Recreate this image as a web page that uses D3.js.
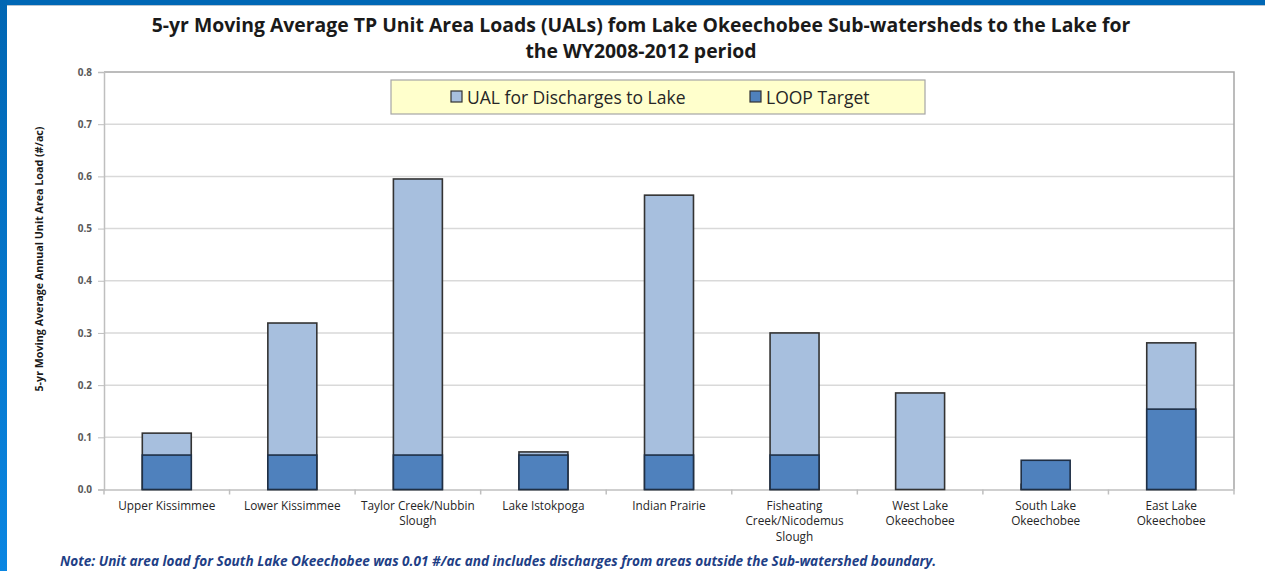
<html>
<head>
<script src="https://d3js.org/d3.v7.min.js"></script>
<style>
  body { margin: 0; background: #fff; }
  text { font-family: "Open Sans", Lato, sans-serif; }
</style>
</head>
<body>
<svg id="chart" width="1265" height="571"></svg>
<script>

// data
var categories = ["Upper Kissimmee", "Lower Kissimmee", "Taylor Creek/Nubbin Slough",
  "Lake Istokpoga", "Indian Prairie", "Fisheating Creek/Nicodemus Slough",
  "West Lake Okeechobee", "South Lake Okeechobee", "East Lake Okeechobee"];
var catLines = [["Upper Kissimmee"], ["Lower Kissimmee"], ["Taylor Creek/Nubbin", "Slough"],
  ["Lake Istokpoga"], ["Indian Prairie"], ["Fisheating", "Creek/Nicodemus", "Slough"],
  ["West Lake", "Okeechobee"], ["South Lake", "Okeechobee"], ["East Lake", "Okeechobee"]];
var ualValues = [0.108, 0.319, 0.595, 0.072, 0.564, 0.300, 0.185, 0.010, 0.281];
var loopValues = [0.066, 0.066, 0.066, 0.066, 0.066, 0.066, 0, 0.056, 0.154];
var yTicks = [0, 0.1, 0.2, 0.3, 0.4, 0.5, 0.6, 0.7, 0.8];
var seriesNames = ["UAL for Discharges to Lake", "LOOP Target"];
var colors = ["#A7BFDE", "#4F81BD"];

var svg = d3.select("#chart");

var pLeft = 104, pRight = 1234, pTop = 72, pBottom = 489.5;

// frame of the slide
var defs = svg.append("defs");
var grad = defs.append("linearGradient").attr("id", "sideGrad")
  .attr("x1", 0).attr("y1", 0).attr("x2", 0).attr("y2", 1);
grad.append("stop").attr("offset", "0%").attr("stop-color", "#0066B3");
grad.append("stop").attr("offset", "100%").attr("stop-color", "#0A86E2");

svg.append("rect").attr("x", 0).attr("y", 0).attr("width", 1265).attr("height", 5).attr("fill", "#0067B5");
svg.append("rect").attr("x", 0).attr("y", 5).attr("width", 1265).attr("height", 1).attr("fill", "#B8C4D0");
svg.append("rect").attr("x", 0).attr("y", 0).attr("width", 7).attr("height", 571).attr("fill", "url(#sideGrad)");

var x = d3.scaleBand().domain(categories).range([pLeft, pRight]).padding(0);
var y = d3.scaleLinear().domain([0, 0.8]).range([pBottom, pTop]);
var barW = x.bandwidth() * 0.39;

// gridlines
svg.append("g").selectAll("line").data(yTicks.slice(1, -1)).enter().append("line")
  .attr("x1", pLeft).attr("x2", pRight)
  .attr("y1", function(d) { return y(d); }).attr("y2", function(d) { return y(d); })
  .attr("stroke", "#D9D9D9").attr("stroke-width", 1.5);

// plot area border (top and right)
svg.append("path")
  .attr("d", "M" + pLeft + "," + pTop + "H" + pRight + "V" + pBottom)
  .attr("fill", "none").attr("stroke", "#A6A6A6").attr("stroke-width", 1.5);

// y axis
var yAxis = svg.append("g")
  .attr("transform", "translate(" + pLeft + ",0)")
  .call(d3.axisLeft(y).tickValues(yTicks).tickFormat(d3.format(".1f")).tickSize(6).tickPadding(6));
yAxis.select(".domain").attr("stroke", "#BFBFBF").attr("stroke-width", 1.5);
yAxis.selectAll(".tick line").attr("stroke", "#BFBFBF");
yAxis.selectAll("text").attr("fill", "#595959").style("font-size", "10px").style("font-weight", "bold")
  .style("font-family", "'Open Sans', sans-serif");

// x axis
var xAxis = svg.append("g")
  .attr("transform", "translate(0," + pBottom + ")")
  .call(d3.axisBottom(x).tickSize(0).tickFormat(""));
xAxis.select(".domain").attr("stroke", "#BFBFBF").attr("stroke-width", 1.5);
svg.append("g").selectAll("line").data(categories).enter().append("line")
  .attr("x1", function(d) { return x(d); }).attr("x2", function(d) { return x(d); })
  .attr("y1", pBottom).attr("y2", pBottom + 5)
  .attr("stroke", "#BFBFBF").attr("stroke-width", 1.5);
svg.append("line").attr("x1", pRight).attr("x2", pRight).attr("y1", pBottom).attr("y2", pBottom + 5)
  .attr("stroke", "#BFBFBF").attr("stroke-width", 1.5);

// category labels
var lbl = svg.append("g").selectAll("text").data(categories).enter().append("text")
  .attr("x", function(d) { return x(d) + x.bandwidth() / 2; })
  .attr("y", pBottom + 20)
  .attr("text-anchor", "middle")
  .attr("fill", "#262626")
  .style("font-size", "11.8px");
lbl.each(function(d, i) {
  var t = d3.select(this);
  catLines[i].forEach(function(line, j) {
    t.append("tspan").attr("x", x(d) + x.bandwidth() / 2).attr("dy", j == 0 ? 0 : 15.5).text(line);
  });
});

// UAL bars (behind)
svg.append("g").selectAll("rect").data(ualValues).enter().append("rect")
  .attr("x", function(d, i) { return x(categories[i]) + (x.bandwidth() - barW) / 2; })
  .attr("y", function(d) { return y(d); })
  .attr("width", barW)
  .attr("height", function(d) { return y(0) - y(d); })
  .attr("fill", colors[0]).attr("stroke", "#333").attr("stroke-width", 1.6);

// LOOP target bars (front)
var loopData = loopValues.map(function(v, i) { return {v: v, c: categories[i]}; })
  .filter(function(d) { return d.v > 0; });
svg.append("g").selectAll("rect").data(loopData)
  .enter().append("rect")
  .attr("x", function(d) { return x(d.c) + (x.bandwidth() - barW) / 2; })
  .attr("y", function(d) { return y(d.v); })
  .attr("width", barW)
  .attr("height", function(d) { return y(0) - y(d.v); })
  .attr("fill", colors[1]).attr("stroke", "#1F2F45").attr("stroke-width", 1.6);

// legend
var lg = svg.append("g");
lg.append("rect").attr("x", 391).attr("y", 80).attr("width", 534).attr("height", 34)
  .attr("fill", "#FFFFCC").attr("stroke", "#A6A6A6").attr("stroke-width", 1.2);
var legendX = [451, 750];
seriesNames.forEach(function(s, i) {
  lg.append("rect").attr("x", legendX[i]).attr("y", 91).attr("width", 11).attr("height", 11)
    .attr("fill", colors[i]).attr("stroke", "#333").attr("stroke-width", 1.2);
  lg.append("text").attr("x", legendX[i] + 16).attr("y", 103.5)
    .style("font-size", "17.5px").attr("fill", "#262626").text(s);
});

// title
svg.append("text").attr("x", 641).attr("y", 32).attr("text-anchor", "middle")
  .style("font-size", "19.4px").style("font-weight", "bold").attr("fill", "#1a1a1a")
  .text("5-yr Moving Average TP Unit Area Loads (UALs) fom Lake Okeechobee Sub-watersheds to the Lake for");
svg.append("text").attr("x", 641).attr("y", 58).attr("text-anchor", "middle")
  .style("font-size", "19.4px").style("font-weight", "bold").attr("fill", "#1a1a1a")
  .text("the WY2008-2012 period");

// y axis title
svg.append("text")
  .attr("transform", "translate(43,259) rotate(-90)")
  .attr("text-anchor", "middle")
  .style("font-size", "10.7px").style("font-weight", "bold").attr("fill", "#1a1a1a")
  .text("5-yr Moving Average Annual Unit Area Load (#/ac)");

// note
svg.append("text").attr("x", 60).attr("y", 566)
  .style("font-size", "13.6px").style("font-weight", "bold").style("font-style", "italic")
  .attr("fill", "#1F3F86")
  .text("Note: Unit area load for South Lake Okeechobee was 0.01 #/ac and includes discharges from areas outside the Sub-watershed boundary.");

</script>
</body>
</html>
